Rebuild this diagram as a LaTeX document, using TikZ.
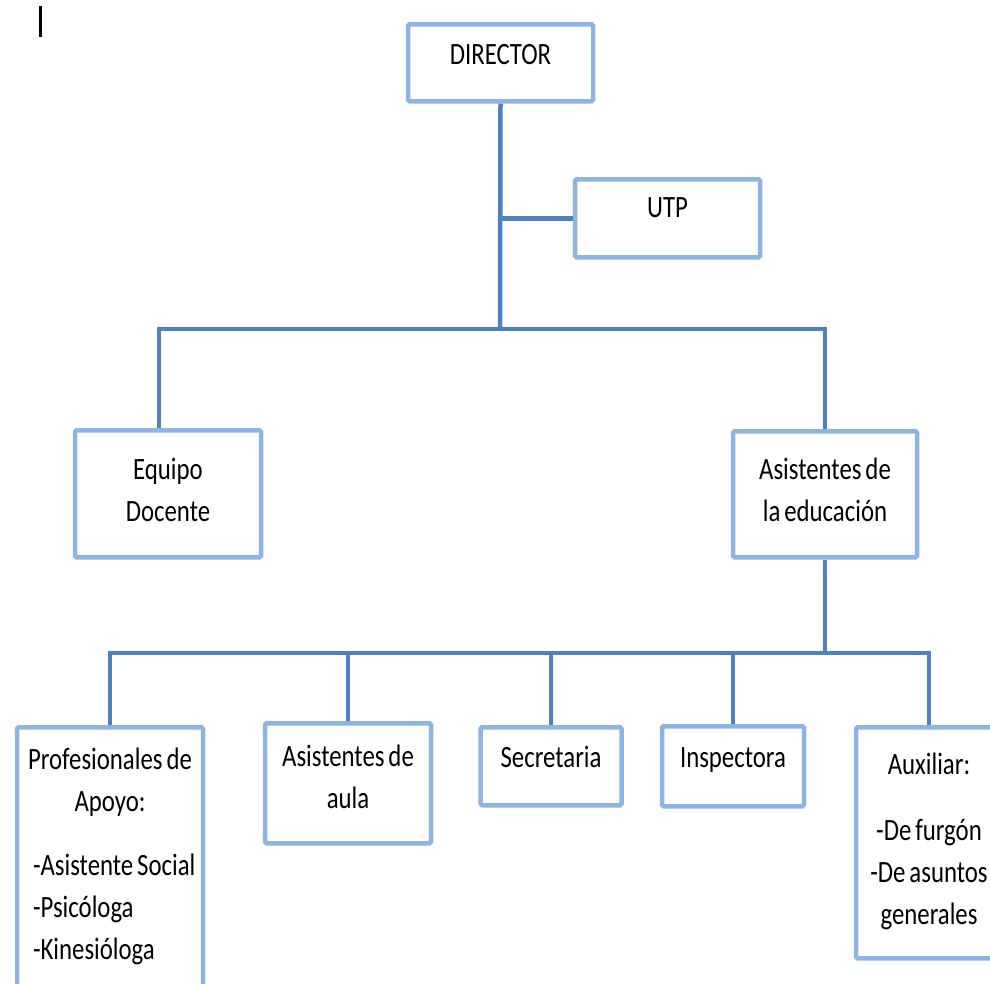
\documentclass[tikz,border=0pt]{standalone}
\usepackage{fontspec}
\setmainfont{Carlito}[FakeStretch=0.8, WordSpace=0.7]
\usepackage{tikz}
\usetikzlibrary{positioning}
\definecolor{boxblue}{RGB}{141,180,226}
\definecolor{linkblue}{RGB}{79,129,189}
\tikzset{orgbox/.style = {draw=boxblue, line width=4.5pt, fill=white,
                          rounded corners=1.5pt, inner sep=0pt, anchor=north,
                          align=flush center, font=\fontsize{31}{42}\selectfont},
         link/.style = {draw=linkblue, line width=4.5pt}}

\begin{document}
\begin{tikzpicture}[x=1pt, y=-1pt]
    \useasboundingbox (0, 0) rectangle (990, 983);
    \draw [line width=3pt] (40, 6) -- (40, 37);

    % top level
    \node [orgbox, text width=185pt, text height=40pt, text depth=37pt] (dir) at (500.5, 22) {DIRECTOR};
    \node [orgbox, text width=185pt, text height=38pt, text depth=40pt] (utp) at (667.5, 177) {UTP};

    % second level
    \node [orgbox, text width=186pt, text height=49pt, text depth=78pt] (doc) at (168, 428) {Equipo\\Docente};
    \node [orgbox, text width=184pt, text height=48pt, text depth=78pt] (asis) at (825, 429) {Asistentes de\\la educación};

    % third level
    \node [orgbox, text width=186pt, text height=42pt, text depth=233pt] (prof) at (110, 725)
        {Profesionales de\\Apoyo:\\[22pt]
         \makebox[154pt][l]{-Asistente Social}\\
         \makebox[154pt][l]{-Psicóloga}\\
         \makebox[154pt][l]{-Kinesióloga}};
    \node [orgbox, text width=166pt, text height=43pt, text depth=77pt] (aula) at (348, 721) {Asistentes de\\aula};
    \node [orgbox, text width=141pt, text height=40pt, text depth=38pt] (secr) at (551, 725) {Secretaria};
    \node [orgbox, text width=142pt, text height=41pt, text depth=39pt] (insp) at (733, 724) {Inspectora};
    \node [orgbox, text width=146pt, text height=47pt, text depth=184pt] (aux) at (929, 725)
        {Auxiliar:\\[24pt]-De furgón\\-De asuntos\\generales};

    % connectors
    \coordinate (split1) at (500, 329);
    \coordinate (split2) at (825, 653);
    \draw [link] (dir.south) -- (split1);
    \draw [link] (dir.south |- utp.west) -- (utp.west);
    \draw [link] ([xshift=-9pt]doc.north) |- (split1) -| (asis.north);
    \draw [link] (asis.south) -- (split2);
    \draw [link] (prof.north) |- (split2) -| (aux.north);
    \foreach \b in {aula, secr, insp}
        \draw [link] (\b.north) -- (\b.north |- split2);
\end{tikzpicture}
\end{document}
